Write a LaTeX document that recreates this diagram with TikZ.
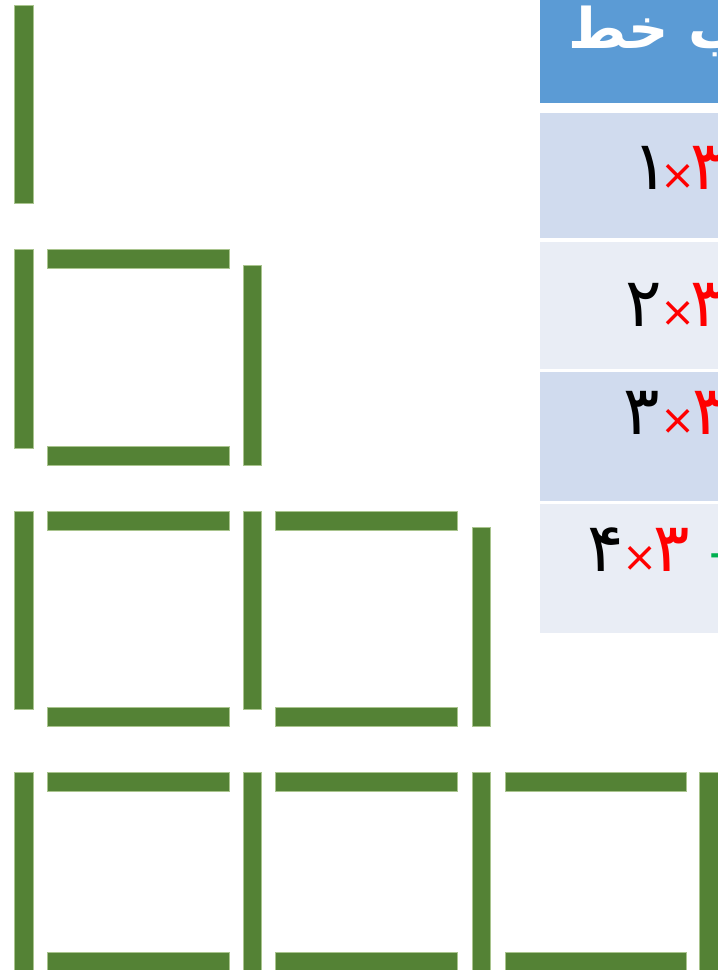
\documentclass[tikz,border=0pt]{standalone}
\usepackage{fontspec}
\newfontfamily\fa[Script=Arabic]{DejaVu Sans}
\newfontfamily\fab[Script=Arabic]{DejaVu Sans Bold}
\TeXXeTstate=1
\definecolor{barG}{HTML}{548235}
\definecolor{barL}{HTML}{A9C48E}
\definecolor{hdrB}{HTML}{5B9BD5}
\definecolor{rowA}{HTML}{D0DBEE}
\definecolor{rowB}{HTML}{E9EDF5}
\definecolor{plusG}{HTML}{00B050}
\tikzset{
  bar/.style={fill=barG, draw=barL, line width=0.4pt},
  dig/.style={inner sep=0pt, anchor=base west, font=\fa\fontsize{68}{68}\selectfont},
  times/.style={inner sep=0pt, anchor=base west, text=red, font=\fa\fontsize{42}{42}\selectfont},
}
\begin{document}
\begin{tikzpicture}[x=1pt,y=-1pt]
\useasboundingbox (0,0) rectangle (718,970);
\clip (0,0) rectangle (718,970);
\fill[white] (0,0) rectangle (718,970);
% table
\fill[hdrB] (540,0) rectangle (730,103);
\fill[rowA] (540,113) rectangle (730,238);
\fill[rowB] (540,242) rectangle (730,369);
\fill[rowA] (540,372) rectangle (730,501);
\fill[rowB] (540,504) rectangle (730,633);
\node[inner sep=0pt, anchor=base west, text=white, font=\fab\fontsize{56}{56}\selectfont] (hdr) at (568,48) {\beginR چوب خط\endR};
% row 1
\node[dig] (a1) at (632,189) {۱};
\node[times] (x1) at (660,189) {×};
\node[dig, text=red] (b1) at (690,189) {۳};
% row 2
\node[dig] (a2) at (625,326) {۲};
\node[times] (x2) at (660,326) {×};
\node[dig, text=red] (b2) at (690,326) {۳};
% row 3
\node[dig] (a3) at (623,434) {۳};
\node[times] (x3) at (660,434) {×};
\node[dig, text=red] (b3) at (692,434) {۳};
% row 4
\node[dig] (a4) at (587,571) {۴};
\node[times] (x4) at (622,571) {×};
\node[dig, text=red] (b4) at (653,571) {۳};
\node[inner sep=0pt, anchor=base west, text=plusG, font=\fa\fontsize{50}{50}\selectfont] (p4) at (706,571) {+};
% row 1 bars
\path[bar] (14,5) rectangle (33,203);
% row 2 bars
\path[bar] (14,249) rectangle (33,448);
\path[bar] (47,249) rectangle (229,268);
\path[bar] (47,446) rectangle (229,465);
\path[bar] (243,265) rectangle (261,465);
% row 3 bars
\path[bar] (14,511) rectangle (33,709);
\path[bar] (47,511) rectangle (229,530);
\path[bar] (47,707) rectangle (229,726);
\path[bar] (243,511) rectangle (261,709);
\path[bar] (275,511) rectangle (457,530);
\path[bar] (275,707) rectangle (457,726);
\path[bar] (472,527) rectangle (490,726);
% row 4 bars
\path[bar] (14,772) rectangle (33,975);
\path[bar] (47,772) rectangle (229,791);
\path[bar] (47,952) rectangle (229,975);
\path[bar] (243,772) rectangle (261,975);
\path[bar] (275,772) rectangle (457,791);
\path[bar] (275,952) rectangle (457,975);
\path[bar] (472,772) rectangle (490,975);
\path[bar] (505,772) rectangle (686,791);
\path[bar] (505,952) rectangle (686,975);
\path[bar] (699,772) rectangle (718,975);
\end{tikzpicture}
\end{document}
